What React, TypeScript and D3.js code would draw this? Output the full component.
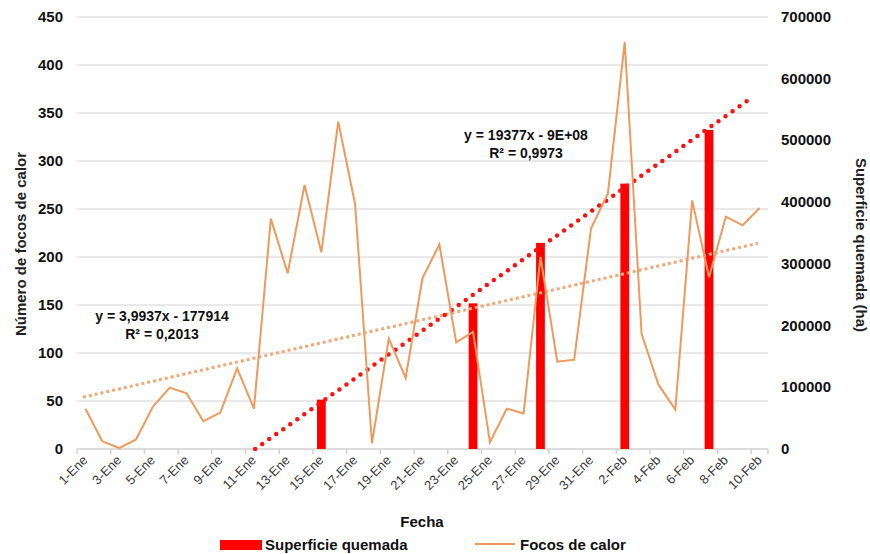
import React, { useRef, useEffect } from 'react';
import * as d3 from 'd3';

const fechas = [
  '1-Ene', '2-Ene', '3-Ene', '4-Ene', '5-Ene', '6-Ene', '7-Ene', '8-Ene', '9-Ene', '10-Ene',
  '11-Ene', '12-Ene', '13-Ene', '14-Ene', '15-Ene', '16-Ene', '17-Ene', '18-Ene', '19-Ene', '20-Ene',
  '21-Ene', '22-Ene', '23-Ene', '24-Ene', '25-Ene', '26-Ene', '27-Ene', '28-Ene', '29-Ene', '30-Ene',
  '31-Ene', '1-Feb', '2-Feb', '3-Feb', '4-Feb', '5-Feb', '6-Feb', '7-Feb', '8-Feb', '9-Feb', '10-Feb',
];

// focos de calor (eje izquierdo)
const focos = [
  42, 8, 1, 10, 44, 64, 58, 29, 38, 84,
  42, 240, 183, 275, 205, 341, 255, 6, 115, 74,
  178, 213, 111, 122, 7, 42, 37, 200, 91, 93,
  230, 266, 424, 120, 67, 41, 259, 179, 242, 233, 251,
];

// superficie quemada (eje derecho), solo en algunas fechas
const superficieFechas = ['15-Ene', '24-Ene', '28-Ene', '2-Feb', '7-Feb'];
const superficie = [80000, 236000, 334000, 430000, 517000];

const leftTicks = [0, 50, 100, 150, 200, 250, 300, 350, 400, 450];
const rightTicks = [0, 100000, 200000, 300000, 400000, 500000, 600000, 700000];

const eqFocos = ['y = 3,9937x - 177914', 'R² = 0,2013'];
const eqSuperficie = ['y = 19377x - 9E+08', 'R² = 0,9973'];

function fit(xs: number[], ys: number[]) {
  const mx = d3.mean(xs) as number;
  const my = d3.mean(ys) as number;
  let sxy = 0, sxx = 0;
  xs.forEach((x, i) => { sxy += (x - mx) * (ys[i] - my); sxx += (x - mx) * (x - mx); });
  const m = sxy / sxx;
  return { m, b: my - m * mx };
}

function Chart() {
  const ref = useRef<SVGSVGElement>(null);

  useEffect(() => {
    const svg = d3.select(ref.current);
    svg.selectAll('*').remove();

    const width = 870, height = 554;
    const left = 77, right = 768, top = 17, bottom = 449;
    const font = '"Liberation Sans", Arial, sans-serif';

    const x = d3.scaleBand().domain(fechas).range([left, right]);
    const xi = d3.scaleLinear().domain([-0.5, fechas.length - 0.5]).range([left, right]);
    const y = d3.scaleLinear().domain([0, 450]).range([bottom, top]);
    const y2 = d3.scaleLinear().domain([0, 700000]).range([bottom, top]);
    const bw = x.bandwidth();

    svg.attr('width', width).attr('height', height);

    // grid
    svg.append('g')
      .selectAll('line')
      .data(leftTicks.slice(1))
      .join('line')
      .attr('x1', left).attr('x2', right)
      .attr('y1', (d) => y(d)).attr('y2', (d) => y(d))
      .attr('stroke', '#e2e2e2').attr('stroke-width', 1.5);

    // x axis
    svg.append('line')
      .attr('x1', left).attr('x2', right)
      .attr('y1', bottom).attr('y2', bottom)
      .attr('stroke', '#d0d0d0').attr('stroke-width', 1.5);

    const labelIdx = fechas.map((_, i) => i).filter((i) => i % 2 === 0);

    svg.append('g')
      .selectAll('line')
      .data([...labelIdx, fechas.length])
      .join('line')
      .attr('x1', (i) => xi(i - 0.5)).attr('x2', (i) => xi(i - 0.5))
      .attr('y1', bottom).attr('y2', bottom + 5)
      .attr('stroke', '#d0d0d0').attr('stroke-width', 1.5);

    svg.append('g')
      .selectAll('text')
      .data(labelIdx)
      .join('text')
      .attr('transform', (i) => `translate(${(x(fechas[i]) as number) + bw / 2 + 3},${bottom + 12}) rotate(-45)`)
      .attr('text-anchor', 'end')
      .attr('font-family', font)
      .attr('font-size', 13)
      .attr('fill', '#3a3a3a')
      .text((i) => fechas[i]);

    // left axis labels
    svg.append('g')
      .selectAll('text')
      .data(leftTicks)
      .join('text')
      .attr('x', 63).attr('y', (d) => y(d) + 5)
      .attr('text-anchor', 'end')
      .attr('font-family', font).attr('font-size', 15).attr('font-weight', 'bold')
      .attr('fill', '#111')
      .text((d) => d);

    // right axis labels
    svg.append('g')
      .selectAll('text')
      .data(rightTicks)
      .join('text')
      .attr('x', 781).attr('y', (d) => y2(d) + 5)
      .attr('text-anchor', 'start')
      .attr('font-family', font).attr('font-size', 15).attr('font-weight', 'bold')
      .attr('fill', '#111')
      .text((d) => d);

    // bars
    svg.append('g')
      .selectAll('rect')
      .data(superficie)
      .join('rect')
      .attr('x', (d, i) => (x(superficieFechas[i]) as number) + bw * 0.24)
      .attr('width', bw * 0.52)
      .attr('y', (d) => y2(d))
      .attr('height', (d) => bottom - y2(d))
      .attr('fill', '#ff0000');

    // trendline focos
    const f1 = fit(focos.map((_, i) => i), focos);
    const t1 = [-0.15, 39.9];
    svg.append('line')
      .attr('x1', xi(t1[0])).attr('y1', y(f1.m * t1[0] + f1.b))
      .attr('x2', xi(t1[1])).attr('y2', y(f1.m * t1[1] + f1.b))
      .attr('stroke', '#f0a878').attr('stroke-width', 3)
      .attr('stroke-dasharray', '3 3');

    // trendline superficie (clipped at 0)
    const sIdx = superficieFechas.map((d) => fechas.indexOf(d));
    const f2 = fit(sIdx, superficie);
    const t2start = Math.max(-0.5, -f2.b / f2.m);
    const t2end = 39.55;
    svg.append('line')
      .attr('x1', xi(t2start)).attr('y1', y2(f2.m * t2start + f2.b))
      .attr('x2', xi(t2end)).attr('y2', y2(f2.m * t2end + f2.b))
      .attr('stroke', '#ff1010').attr('stroke-width', 4.5)
      .attr('stroke-linecap', 'round')
      .attr('stroke-dasharray', '0 8.6');

    // focos line
    const line = d3.line<number>()
      .x((d, i) => (x(fechas[i]) as number) + bw / 2)
      .y((d) => y(d));

    svg.append('path')
      .datum(focos)
      .attr('fill', 'none')
      .attr('stroke', '#ee9a5c')
      .attr('stroke-width', 2)
      .attr('stroke-linejoin', 'miter')
      .attr('d', line);

    // equations
    const eq = (lines: string[], cx: number, cy: number) => {
      lines.forEach((t, i) => {
        svg.append('text')
          .attr('x', cx).attr('y', cy + i * 18)
          .attr('text-anchor', 'middle')
          .attr('font-family', font).attr('font-size', 14).attr('font-weight', 'bold')
          .attr('fill', '#111')
          .text(t);
      });
    };
    eq(eqFocos, 162, 321);
    eq(eqSuperficie, 526, 140);

    // axis titles
    svg.append('text')
      .attr('transform', 'translate(26,244) rotate(-90)')
      .attr('text-anchor', 'middle')
      .attr('font-family', font).attr('font-size', 15).attr('font-weight', 'bold')
      .attr('fill', '#222')
      .text('Número de focos de calor');

    svg.append('text')
      .attr('transform', 'translate(856,245) rotate(90)')
      .attr('text-anchor', 'middle')
      .attr('font-family', font).attr('font-size', 15).attr('font-weight', 'bold')
      .attr('fill', '#222')
      .text('Superficie quemada (ha)');

    svg.append('text')
      .attr('x', 422).attr('y', 527)
      .attr('text-anchor', 'middle')
      .attr('font-family', font).attr('font-size', 15).attr('font-weight', 'bold')
      .attr('fill', '#111')
      .text('Fecha');

    // legend
    const lg = svg.append('g');
    lg.append('rect').attr('x', 220).attr('y', 540).attr('width', 42).attr('height', 10).attr('fill', '#ff0000');
    lg.append('text').attr('x', 265).attr('y', 550)
      .attr('font-family', font).attr('font-size', 15).attr('font-weight', 'bold').attr('fill', '#111')
      .text('Superficie quemada');
    lg.append('line').attr('x1', 475).attr('x2', 515).attr('y1', 544).attr('y2', 544)
      .attr('stroke', '#ee9a5c').attr('stroke-width', 2);
    lg.append('text').attr('x', 520).attr('y', 550)
      .attr('font-family', font).attr('font-size', 15).attr('font-weight', 'bold').attr('fill', '#111')
      .text('Focos de calor');
  }, []);

  return <svg ref={ref} style={{ position: 'absolute', left: 0, top: 0 }}></svg>;
}

export default function App() {
  return <Chart />;
}
